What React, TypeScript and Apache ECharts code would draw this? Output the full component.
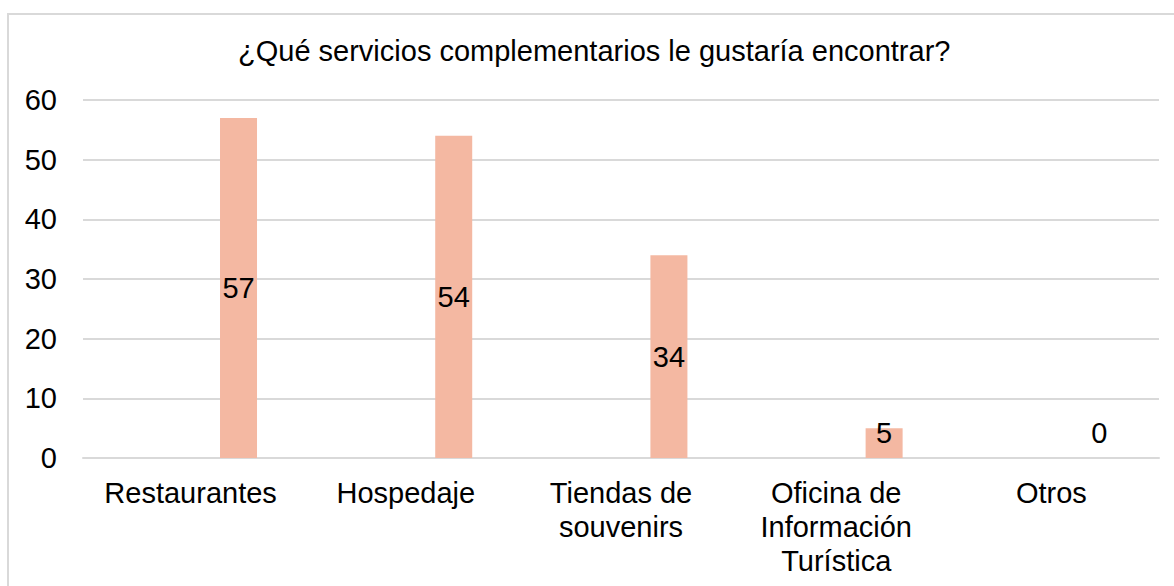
import React, { useEffect, useRef } from "react";
import * as echarts from "echarts";

const titleText = "¿Qué servicios complementarios le gustaría encontrar?";
const categories = [
  "Restaurantes",
  "Hospedaje",
  "Tiendas de\nsouvenirs",
  "Oficina de\nInformación\nTurística",
  "Otros",
];
const emptySeries: (number | null)[] = [null, null, null, null, null];
const values = [57, 54, 34, 5, 0];
const yMin = 0;
const yMax = 60;
const yInterval = 10;

const FONT = "'Liberation Sans', Arial, sans-serif";
const FS = 29;

export default function App() {
  const ref = useRef<HTMLDivElement>(null);
  useEffect(() => {
    if (!ref.current) return;
    const chart = echarts.init(ref.current, null, { renderer: "svg" });
    chart.setOption({
      animation: false,
      backgroundColor: "#ffffff",
      textStyle: { fontFamily: FONT },
      title: {
        text: titleText,
        left: 238,
        top: 36,
        padding: 0,
        textStyle: { fontFamily: FONT, fontSize: FS, fontWeight: "normal", color: "#000000" },
      },
      graphic: [
        {
          type: "rect",
          shape: { x: 8, y: 14, width: 1300, height: 800 },
          style: { fill: "none", stroke: "#d9d9d9", lineWidth: 2 },
          silent: true,
        },
      ],
      grid: { left: 83, right: 15, top: 100, bottom: 128, containLabel: false },
      xAxis: {
        type: "category",
        data: categories,
        axisLine: { show: true, lineStyle: { color: "#d9d9d9", width: 2 } },
        axisTick: { show: false },
        axisLabel: {
          interval: 0,
          fontFamily: FONT,
          fontSize: FS,
          color: "#000000",
          lineHeight: 34,
          margin: 18,
        },
      },
      yAxis: {
        type: "value",
        min: yMin,
        max: yMax,
        interval: yInterval,
        axisLine: { show: false },
        axisTick: { show: false },
        splitLine: { lineStyle: { color: "#d9d9d9", width: 2 } },
        axisLabel: { fontFamily: FONT, fontSize: FS, color: "#000000", margin: 26 },
      },
      series: [
        {
          type: "bar",
          name: "Serie 1",
          data: emptySeries,
          barWidth: 37,
          barGap: "159%",
          itemStyle: { color: "#4472c4" },
        },
        {
          type: "bar",
          name: "Serie 2",
          barWidth: 37,
          barGap: "159%",
          itemStyle: { color: "#f4b8a2" },
          label: {
            show: true,
            position: "inside",
            fontFamily: FONT,
            fontSize: FS,
            color: "#000000",
            lineHeight: 29,
          },
          data: values.map((v) =>
            v < 10
              ? { value: v, label: { position: "insideBottom", distance: 11 } }
              : { value: v }
          ),
        },
      ],
    });
    return () => chart.dispose();
  }, []);
  return (
    <div
      ref={ref}
      style={{ position: "fixed", left: 0, top: 0, width: 1174, height: 586 }}
    />
  );
}
